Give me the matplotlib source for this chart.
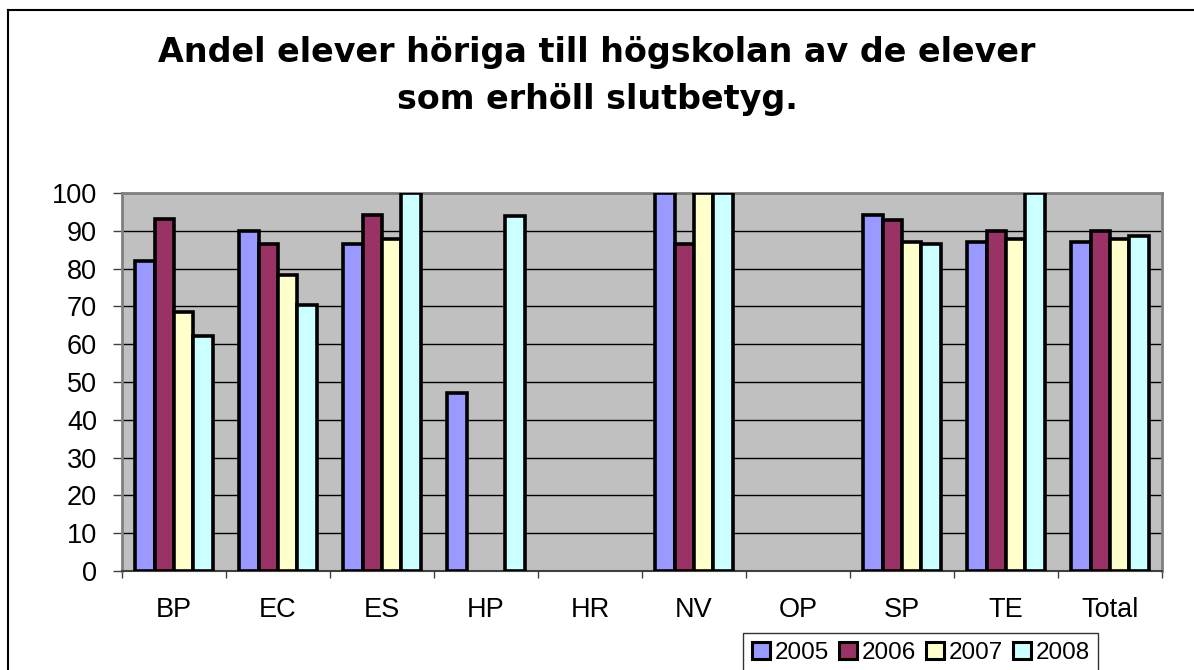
import numpy as np
import matplotlib
matplotlib.use("Agg")
import matplotlib.pyplot as plt
from matplotlib.patches import Patch
from matplotlib.lines import Line2D

# data
programs = ['BP', 'EC', 'ES', 'HP', 'HR', 'NV', 'OP', 'SP', 'TE', 'Total']
years = ['2005', '2006', '2007', '2008']
y2005 = [82, 90, 86.5, 47, np.nan, 100, np.nan, 94.2, 87.1, 87.1]
y2006 = [93, 86.5, 94.2, np.nan, np.nan, 86.5, np.nan, 92.8, 90, 90]
y2007 = [68.4, 78.2, 87.7, np.nan, np.nan, 100, np.nan, 87.1, 87.7, 87.7]
y2008 = [62.2, 70.5, 100, 94, np.nan, 100, np.nan, 86.5, 100, 88.6]
series = [y2005, y2006, y2007, y2008]
colors = ['#9999FF', '#993366', '#FFFFCC', '#CCFFFF']

plt.rcParams['font.family'] = ['Liberation Sans', 'DejaVu Sans']

fig = plt.figure(figsize=(11.94, 6.70), dpi=100)
ax = fig.add_axes([122/1194, 1-571/670, (1162-122)/1194, (571-193)/670])
ax.set_facecolor('#C0C0C0')

x = np.arange(len(programs))
w = 0.186
for i, vals in enumerate(series):
    ax.bar(x + (i-1.5)*w, vals, w, color=colors[i], edgecolor='black',
           linewidth=2.6, zorder=3)

ax.set_xlim(-0.5, len(programs)-0.5)
ax.set_ylim(0, 100)
ax.set_yticks(np.arange(0, 101, 10))
ax.yaxis.grid(True, color='black', linewidth=1.0, zorder=1)
ax.set_axisbelow(True)

# boundaries get tick marks, names sit in the middle
ax.set_xticks(np.arange(-0.5, len(programs), 1))
ax.set_xticklabels([])
ax.set_xticks(x, minor=True)
ax.set_xticklabels(programs, minor=True)
ax.tick_params(axis='x', which='major', length=5, width=1, color='#404040')
ax.tick_params(axis='x', which='minor', length=0, pad=19, labelsize=19.5)
ax.tick_params(axis='y', length=6.5, width=1, color='#404040', pad=11.5, labelsize=19.5)

for s in ['top', 'right', 'left']:
    ax.spines[s].set_color('#808080')
    ax.spines[s].set_linewidth(2)
ax.spines['bottom'].set_color('#404040')
ax.spines['bottom'].set_linewidth(1.5)

# title, two lines placed on their baselines
fig.text(0.5, 1-62/670, 'Andel elever höriga till högskolan av de elever',
         ha='center', va='baseline', fontsize=24, fontweight='bold', family='DejaVu Sans')
fig.text(0.5, 1-109/670, 'som erhöll slutbetyg.',
         ha='center', va='baseline', fontsize=24, fontweight='bold', family='DejaVu Sans')

handles = [Patch(facecolor=c, edgecolor='black', linewidth=2.2) for c in colors]
leg = fig.legend(handles, years, loc='upper left', bbox_to_anchor=(743/1194, 1-633/670),
                 ncol=4, fontsize=17.5, frameon=True, fancybox=False, borderpad=0.35,
                 handlelength=0.75, handleheight=0.75, handletextpad=0.2,
                 columnspacing=0.4, borderaxespad=0)
leg.get_frame().set_edgecolor('black')
leg.get_frame().set_linewidth(1)

# outer chart border
fig.add_artist(Line2D([8/1194, 8/1194], [0, 1-10/670], color='black', linewidth=1.5))
fig.add_artist(Line2D([8/1194, 1], [1-10/670, 1-10/670], color='black', linewidth=1.5))

fig.savefig('out.png', dpi=100)
